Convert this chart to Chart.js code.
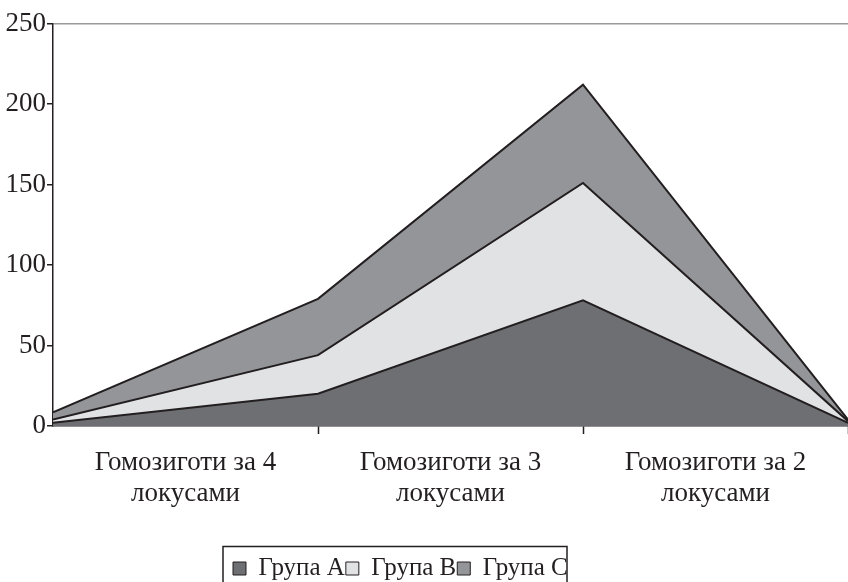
<!DOCTYPE html>
<html><head><meta charset="utf-8">
<script src="https://cdn.jsdelivr.net/npm/chart.js@4"></script>
<style>html,body{margin:0;padding:0;background:#fff}canvas{display:block}</style>
</head><body>
<canvas id="c" width="848" height="582"></canvas>
<script>
const categories = [['Гомозиготи за 4','локусами'],['Гомозиготи за 3','локусами'],['Гомозиготи за 2','локусами']];
const xPoints = [0, 1, 2, 3];
const grupaA = [2, 20, 78, 2];
const grupaB = [2, 24, 73, 1];
const grupaC = [4.5, 35, 61, 1];
const yTicks = [0, 50, 100, 150, 200, 250];
const seriesNames = ['Група A', 'Група B', 'Група C'];

const fontFam = '"Liberation Serif", "Times New Roman", serif';
const mk = (arr) => arr.map((v, i) => ({x: xPoints[i], y: v}));

const legendBox = {
  id: 'legendBox',
  afterLayout(chart) {
    const l = chart.legend;
    if (!l || !l.lineWidths) return;
    const start = (l.left + 1 + l.right - l.lineWidths[0]) / 2;
    const dx = 233 - start;
    l.left += dx; l.right += dx;
    const dy = 9;
    l.top += dy; l.bottom += dy;
  },
  afterDraw(chart) {
    const ctx = chart.ctx;
    ctx.save();
    ctx.strokeStyle = '#231f20';
    ctx.lineWidth = 1.5;
    ctx.strokeRect(223, 546.5, 344, 50);
    ctx.restore();
  }
};

new Chart(document.getElementById('c'), {
  type: 'line',
  data: {
    datasets: [
      {label: seriesNames[0], data: mk(grupaA), backgroundColor: '#6e6f72', borderColor: '#231f20', borderWidth: 2, fill: 'origin', pointRadius: 0, tension: 0},
      {label: seriesNames[1], data: mk(grupaB), backgroundColor: '#e1e2e4', borderColor: '#231f20', borderWidth: 2, fill: '-1', pointRadius: 0, tension: 0},
      {label: seriesNames[2], data: mk(grupaC), backgroundColor: '#949598', borderColor: '#231f20', borderWidth: 2, fill: '-1', pointRadius: 0, tension: 0}
    ]
  },
  options: {
    responsive: false,
    animation: false,
    layout: {padding: {top: 23.5, right: 0, left: 0, bottom: 0}},
    plugins: {
      tooltip: {enabled: false},
      legend: {
        position: 'bottom',
        labels: {
          font: {family: fontFam, size: 25},
          color: '#231f20',
          boxWidth: 13,
          boxHeight: 13,
          padding: 1,
          generateLabels(chart) {
            return chart.data.datasets.map((d, i) => ({
              text: d.label, fillStyle: d.backgroundColor, strokeStyle: '#231f20',
              lineWidth: 1, hidden: false, datasetIndex: i, fontColor: '#231f20'
            }));
          }
        }
      }
    },
    scales: {
      x: {
        type: 'linear', min: 0, max: 3,
        afterBuildTicks(scale) { scale.ticks = [0, 0.5, 1, 1.5, 2, 2.5, 3].map(v => ({value: v})); },
        afterFit(scale) { scale.height = 120; scale.paddingRight = 0; scale.paddingLeft = 0; },
        border: {color: '#231f20', width: 1.5},
        grid: {
          drawOnChartArea: false, tickLength: 8,
          tickColor: (ctx) => (ctx.tick && Number.isInteger(ctx.tick.value) && ctx.tick.value > 0) ? '#231f20' : 'rgba(0,0,0,0)',
          tickWidth: 1.5
        },
        ticks: {
          autoSkip: false, maxRotation: 0, minRotation: 0, padding: 13,
          font: {family: fontFam, size: 27, lineHeight: 1.15},
          color: '#231f20',
          callback: (v) => {
            const i = Math.floor(v);
            return (Math.abs(v - i - 0.5) < 1e-6) ? categories[i] : '';
          }
        }
      },
      y: {
        stacked: true, min: 0, max: 250,
        afterBuildTicks(scale) { scale.ticks = yTicks.map(v => ({value: v})); },
        afterFit(scale) { scale.width = 53; },
        border: {color: '#231f20', width: 1.5},
        grid: {
          color: (ctx) => (ctx.tick && ctx.tick.value === 250) ? '#9a9a9a' : 'rgba(0,0,0,0)',
          lineWidth: 1.5,
          tickLength: 6, tickColor: '#231f20', tickWidth: 1.5
        },
        ticks: {
          padding: 1,
          font: {family: fontFam, size: 27},
          color: '#231f20'
        }
      }
    }
  },
  plugins: [legendBox]
});
</script>
</body></html>
